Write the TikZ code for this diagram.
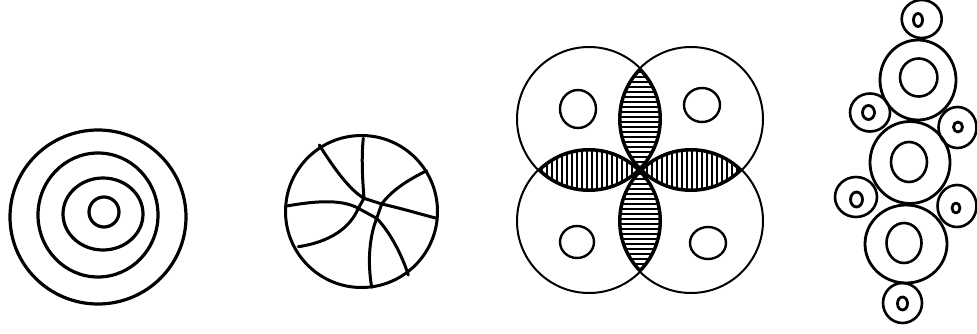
\documentclass[tikz,border=0pt]{standalone}
\begin{document}
\begin{tikzpicture}[x=1pt,y=-1pt,
  ink/.style={draw=black,line width=#1,line cap=round,line join=round},
  ink/.default=2.5pt,
  hatch/.style={draw=black,line width=1.9pt}]
\useasboundingbox[fill=white] (0,0) rectangle (977,334);

% ---- Figure 1: concentric rings
\draw[ink=3.2pt] (98,217) ellipse (88 and 87);
\draw[ink=3.2pt] (98,215) ellipse (60 and 62);
\draw[ink=3.2pt] (103,214) ellipse (40 and 36);
\draw[ink=3.2pt] (104,212) ellipse (15 and 15);

% ---- Figure 2: ball
\draw[ink=3pt] (361.5,211.5) circle (76);
\draw[ink=3pt] (319.3,145) .. controls (335,170) and (350,190) .. (364,198.3);
\draw[ink=3pt] (363.3,138.3) .. controls (361,160) and (363,185) .. (364,198.3);
\draw[ink=3pt] (364,198.3) -- (381.7,204) -- (376.7,218.3) -- (358.3,208.3) -- cycle;
\draw[ink=3pt] (286.7,206) .. controls (310,202) and (340,198) .. (358.3,208.3);
\draw[ink=3pt] (358.3,208.3) .. controls (350,228) and (330,242) .. (298.3,246.7);
\draw[ink=3pt] (381.7,204) .. controls (392,190) and (408,180) .. (426.7,170.7);
\draw[ink=3pt] (381.7,204) .. controls (400,208) and (420,214) .. (436.7,218.3);
\draw[ink=3pt] (376.7,218.3) .. controls (390,232) and (402,255) .. (408.3,275);
\draw[ink=3pt] (376.7,218.3) .. controls (370,235) and (367,260) .. (371.7,287.3);

% ---- Figure 3: four overlapping circles with hatched lenses
\def\R{72}
\begin{scope}
  \clip (589,119) circle (\R);
  \clip (691,119) circle (\R);
  \foreach \yy in {72,77,...,170} \draw[hatch] (600,\yy) -- (680,\yy);
  \draw[line width=5pt] (589,119) circle (\R) (691,119) circle (\R);
\end{scope}
\begin{scope}
  \clip (589,221) circle (\R);
  \clip (691,221) circle (\R);
  \foreach \yy in {174,179,...,272} \draw[hatch] (600,\yy) -- (680,\yy);
  \draw[line width=5pt] (589,221) circle (\R) (691,221) circle (\R);
\end{scope}
\begin{scope}
  \clip (589,119) circle (\R);
  \clip (589,221) circle (\R);
  \foreach \xx in {542,547,...,640} \draw[hatch] (\xx,130) -- (\xx,210);
  \draw[line width=5pt] (589,119) circle (\R) (589,221) circle (\R);
\end{scope}
\begin{scope}
  \clip (691,119) circle (\R);
  \clip (691,221) circle (\R);
  \foreach \xx in {642,647,...,742} \draw[hatch] (\xx,130) -- (\xx,210);
  \draw[line width=5pt] (691,119) circle (\R) (691,221) circle (\R);
\end{scope}
\draw[ink=2pt] (589,119) circle (\R);
\draw[ink=2pt] (691,119) circle (\R);
\draw[ink=2pt] (589,221) circle (\R);
\draw[ink=2pt] (691,221) circle (\R);
\draw[ink=2.4pt] (578,109) ellipse (18 and 19);
\draw[ink=2.4pt] (702,105) ellipse (18 and 17);
\draw[ink=2.4pt] (577,242) ellipse (17 and 16);
\draw[ink=2.4pt] (708,243) ellipse (18 and 16);

% ---- Figure 4: chain of rings
\draw[ink=2.8pt] (918,80) ellipse (38 and 40);
\draw[ink=2.6pt] (918.7,77.5) ellipse (18.7 and 19);
\draw[ink=2.8pt] (910,162.5) ellipse (40 and 41);
\draw[ink=2.6pt] (909,162) ellipse (18 and 20);
\draw[ink=2.8pt] (906,244) ellipse (41 and 39);
\draw[ink=2.6pt] (904,243) ellipse (17.5 and 20);

\draw[ink=2.6pt] (921.7,19) ellipse (20 and 19);
\draw[ink=2.8pt] (918,20) ellipse (4.5 and 6.5);
\draw[ink=2.6pt] (870,112.5) ellipse (20 and 19);
\draw[ink=2.8pt] (868.5,112.5) ellipse (6 and 7);
\draw[ink=2.6pt] (957.5,127.5) ellipse (19 and 20.5);
\draw[ink=2.8pt] (958,127) ellipse (4.5 and 5);
\draw[ink=2.6pt] (856,197) ellipse (21 and 20);
\draw[ink=2.8pt] (856.5,199.5) ellipse (6 and 7.5);
\draw[ink=2.6pt] (957,206) ellipse (19.5 and 21);
\draw[ink=2.8pt] (956,208) ellipse (4 and 5);
\draw[ink=2.6pt] (902.5,303) ellipse (19.5 and 20);
\draw[ink=2.8pt] (902.5,303.5) ellipse (5 and 6.5);
\end{tikzpicture}
\end{document}
